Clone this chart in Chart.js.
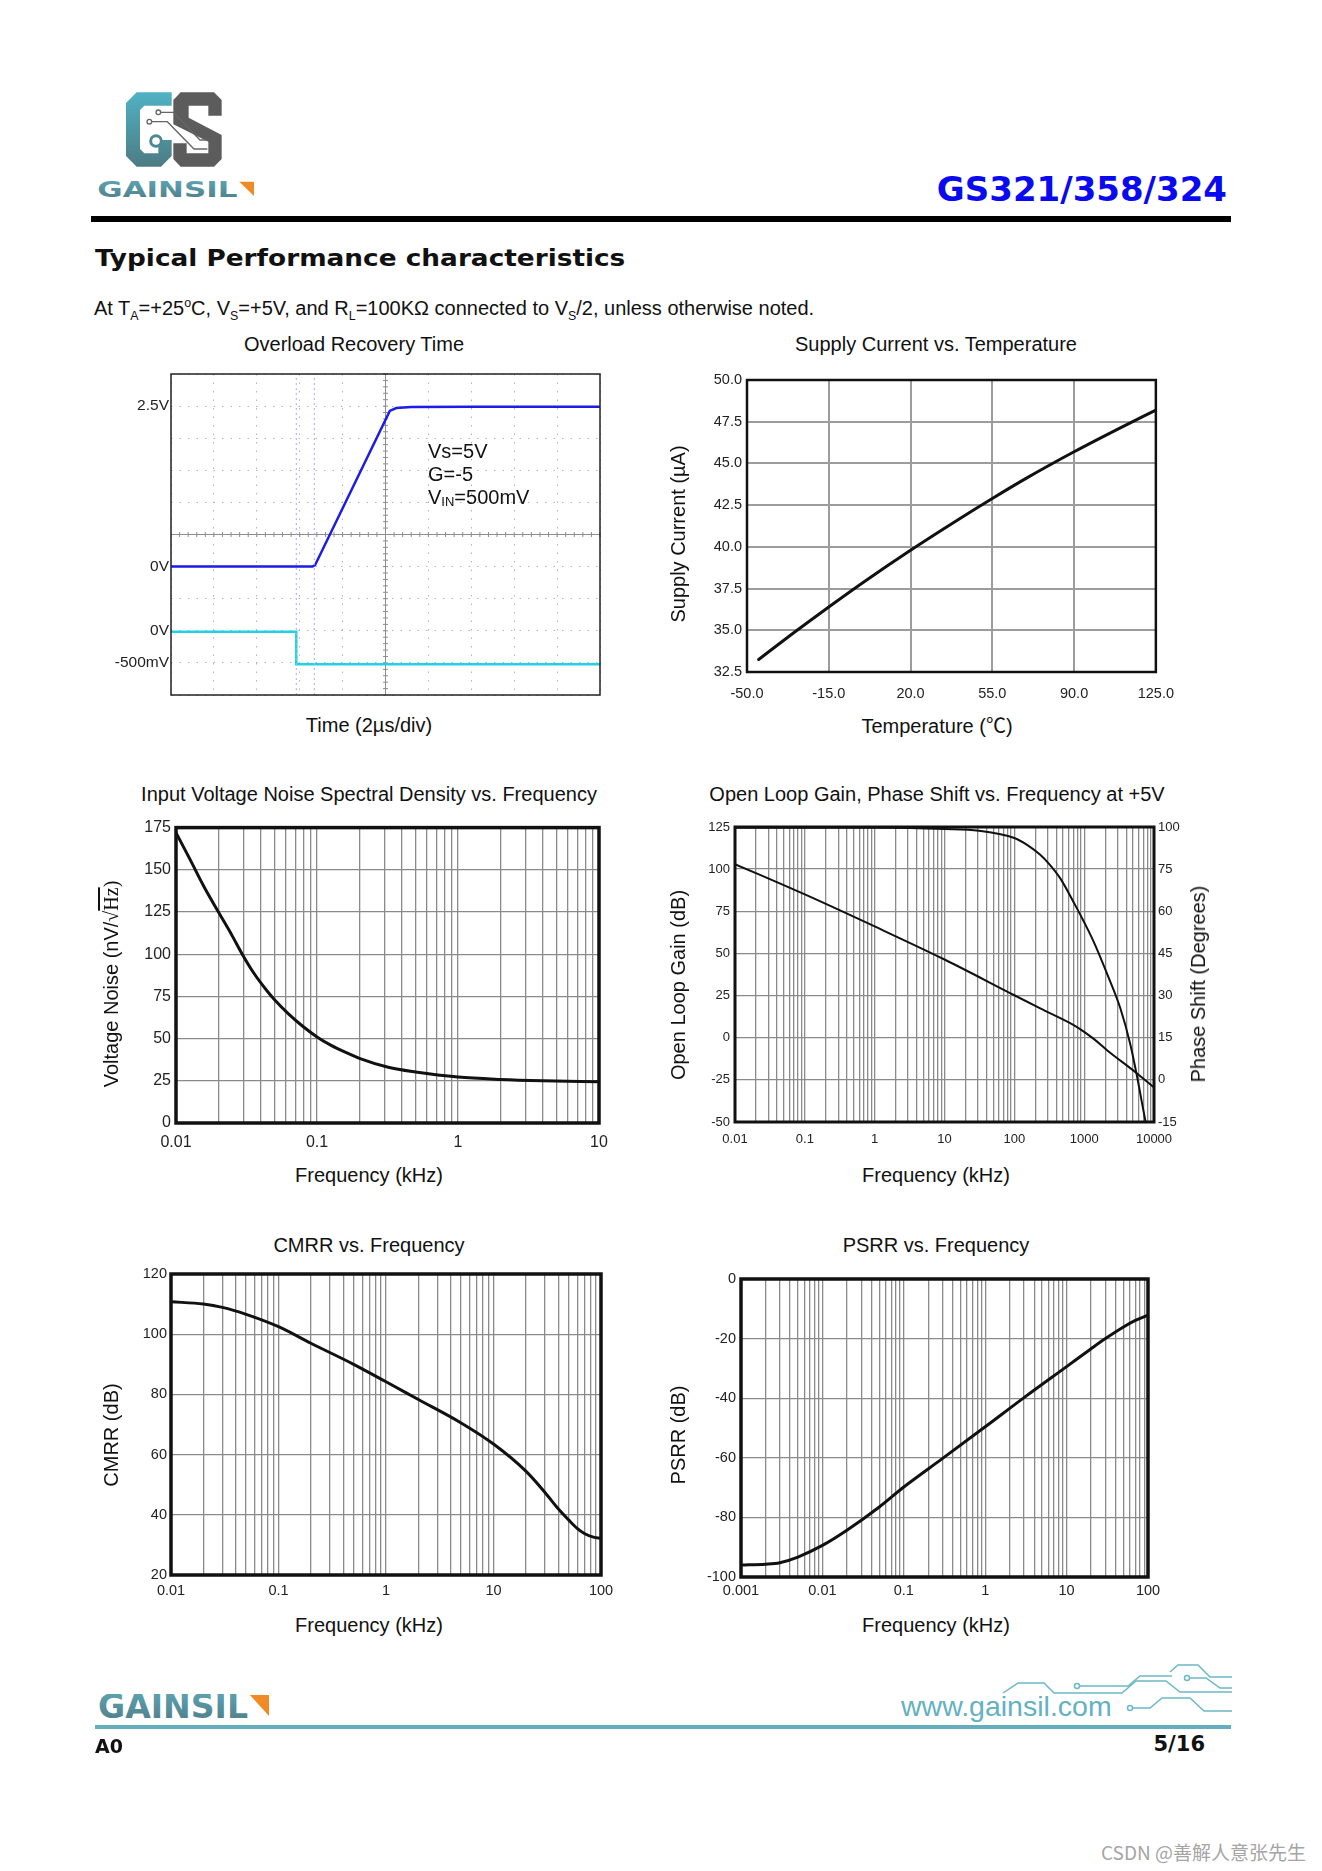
<!DOCTYPE html>
<html lang="en">
<head>
<meta charset="UTF-8">
<title>GS321/358/324 – Typical Performance characteristics</title>
<script src="https://cdn.jsdelivr.net/npm/chart.js"></script>
<style>
  html, body { margin: 0; padding: 0; background: #fff; }
  #page { position: relative; width: 1322px; height: 1871px; overflow: hidden;
          font-family: 'Liberation Sans', Arial, sans-serif; color: #111; }
  canvas { position: absolute; }
  .t { position: absolute; white-space: nowrap; line-height: 1; font-size: 20px;
       transform: translate(-50%, -50%); z-index: 2; }
  .v { transform: translate(-50%, -50%) rotate(-90deg); }
  .l { transform: translateY(-50%); }
  .r { transform: translate(-100%, -50%); }
  sub, sup { font-size: 0.62em; line-height: 0; }
</style>
</head>
<body>
<div id="page">

  <!-- header logo -->
  <svg style="position:absolute;left:90px;top:85px" width="180" height="125" viewBox="0 0 540 375">
    <defs>
      <linearGradient id="teal" x1="0" y1="0" x2="0" y2="1">
        <stop offset="0" stop-color="#4fb2c4"/>
        <stop offset="1" stop-color="#4d7b84"/>
      </linearGradient>
      <linearGradient id="teal2" x1="0" y1="0" x2="0" y2="1">
        <stop offset="0" stop-color="#5fa9b8"/>
        <stop offset="1" stop-color="#4d7a83"/>
      </linearGradient>
    </defs>
    <path d="M140,22 H245 V62 H163 L150,75 V192 L163,205 H205 V165 H245 V213 L213,245 H140 L108,213 V54 Z" fill="url(#teal)"/>
    <circle cx="198" cy="168" r="16" fill="#fff" stroke="#4f8894" stroke-width="9"/>
    <path d="M272,22 H372 L395,45 V92 H355 V62 H296 V98 L395,150 V222 L372,245 H272 L250,222 V175 H290 V205 H355 V170 L250,118 V45 Z" fill="#5c5c5c"/>
    <g fill="none" stroke="#666" stroke-width="4">
      <circle cx="205" cy="82" r="7"/>
      <circle cx="178" cy="110" r="7"/>
      <polyline points="212,82 250,82 330,165 352,165"/>
      <polyline points="185,110 232,110 312,192 352,192"/>
    </g>
    <text x="22" y="335" font-family="DejaVu Sans" font-weight="bold" font-size="62" textLength="420" lengthAdjust="spacingAndGlyphs" fill="url(#teal2)">GAINSIL</text>
    <polygon points="448,290 492,290 492,333" fill="#f08a24"/>
  </svg>

  <div class="t r" style="left:1227px;top:189px;font-family:'DejaVu Sans';font-weight:bold;font-size:34px;color:#0a0af0">GS321/358/324</div>
  <div style="position:absolute;left:91px;top:216px;width:1140px;height:6px;background:#000"></div>
  <div class="t" style="left:95px;top:258px;font-family:'DejaVu Sans';font-weight:bold;font-size:23px;transform:translateY(-50%) scaleX(1.145);transform-origin:0 50%">Typical Performance characteristics</div>
  <div class="t l" style="left:94px;top:308px">At T<sub>A</sub>=+25<sup>o</sup>C, V<sub>S</sub>=+5V, and R<sub>L</sub>=100KΩ connected to V<sub>S</sub>/2, unless otherwise noted.</div>

  <!-- chart titles -->
  <div class="t" style="left:354px;top:344px">Overload Recovery Time</div>
  <div class="t" style="left:936px;top:344px">Supply Current vs. Temperature</div>
  <div class="t" style="left:369px;top:794px">Input Voltage Noise Spectral Density vs. Frequency</div>
  <div class="t" style="left:937px;top:794px">Open Loop Gain, Phase Shift vs. Frequency at +5V</div>
  <div class="t" style="left:369px;top:1245px">CMRR vs. Frequency</div>
  <div class="t" style="left:936px;top:1245px">PSRR vs. Frequency</div>

  <!-- axis titles -->
  <div class="t" style="left:369px;top:725px">Time (2µs/div)</div>
  <div class="t" style="left:937px;top:725px">Temperature (<span style="font-family:'Noto Sans CJK SC'">℃</span>)</div>
  <div class="t v" style="left:678px;top:534px">Supply Current (µA)</div>
  <div class="t" style="left:369px;top:1175px">Frequency (kHz)</div>
  <div class="t v" style="left:111px;top:984px">Voltage Noise (nV/<span style="font-family:'Liberation Serif'">√<span style="text-decoration:overline">Hz</span>)</span></div>
  <div class="t" style="left:936px;top:1175px">Frequency (kHz)</div>
  <div class="t v" style="left:678px;top:985px">Open Loop Gain (dB)</div>
  <div class="t v" style="left:1198px;top:984px">Phase Shift (Degrees)</div>
  <div class="t" style="left:369px;top:1625px">Frequency (kHz)</div>
  <div class="t v" style="left:111px;top:1435px">CMRR (dB)</div>
  <div class="t" style="left:936px;top:1625px">Frequency (kHz)</div>
  <div class="t v" style="left:678px;top:1435px">PSRR (dB)</div>

  <!-- scope annotation -->
  <div class="t l" style="left:428px;top:451px">Vs=5V</div>
  <div class="t l" style="left:428px;top:474px">G=-5</div>
  <div class="t l" style="left:428px;top:497px">V<span style="font-size:13px;position:relative;top:2px">IN</span>=500mV</div>

  <canvas id="scope"></canvas>
  <canvas id="supply"></canvas>
  <canvas id="noise"></canvas>
  <canvas id="gain"></canvas>
  <canvas id="cmrr"></canvas>
  <canvas id="psrr"></canvas>

  <!-- footer -->
  <svg style="position:absolute;left:98px;top:1694px" width="172" height="25" viewBox="0 0 172 25">
    <text x="0" y="24" font-family="DejaVu Sans" font-weight="bold" font-size="33" textLength="150" lengthAdjust="spacingAndGlyphs" fill="url(#teal2)">GAINSIL</text>
    <polygon points="152,1 171,1 171,22" fill="#f08a24"/>
  </svg>
  <div class="t l" style="left:901px;top:1706px;font-size:28.5px;color:#63b1c1">www.gainsil.com</div>
  <svg style="position:absolute;left:990px;top:1660px" width="250" height="70" viewBox="990 1660 250 70">
    <g fill="none" stroke="#6cb8c7" stroke-width="1.5">
      <polyline points="1003,1693 1018,1683 1044,1683 1054,1693 1122,1693 1136,1681 1166,1681 1180,1692 1232,1692"/>
      <polyline points="1080,1686 1128,1686 1140,1676 1172,1676"/>
      <polyline points="1190,1678 1206,1678 1220,1688 1232,1688"/>
      <polyline points="1170,1672 1178,1665 1198,1665 1210,1677 1232,1677"/>
      <polyline points="1133,1708 1150,1708 1162,1698 1190,1698 1204,1711 1232,1711"/>
      <circle cx="1077" cy="1686" r="2.5"/>
      <circle cx="1187" cy="1678" r="2.5"/>
      <circle cx="1130" cy="1708" r="2.5"/>
    </g>
  </svg>
  <div style="position:absolute;left:95px;top:1725px;width:1136px;height:4px;background:#64aebd"></div>
  <div class="t l" style="left:95px;top:1746px;font-family:'DejaVu Sans';font-weight:bold;font-size:19px">A0</div>
  <div class="t r" style="left:1205px;top:1744px;font-family:'DejaVu Sans';font-weight:bold;font-size:21px">5/16</div>
  <div class="t r" style="left:1306px;top:1851px;font-family:'Noto Sans CJK SC';font-size:19px;color:#a5a5a5">CSDN @善解人意张先生</div>
</div>

<script>
// ---- data ----

// Overload recovery (oscilloscope, in divisions)
const scopeDivTicks = [0, 1, 2, 3, 4, 5, 6, 7, 8, 9, 10];
const scopeLabelDivs = [9, 4, 2, 1];
const scopeLabelText = ['2.5V', '0V', '0V', '-500mV'];
const outTime = [0, 3.30, 3.36, 5.10, 5.25, 5.60, 7.00, 10];
const outDiv = [4.0, 4.0, 4.05, 8.85, 8.94, 8.97, 8.98, 8.98];
const inTime = [0, 2.92, 2.92, 10];
const inDiv = [1.97, 1.97, 0.96, 0.96];
const cursorTimes = [2.92, 3.34];

// Supply current vs temperature
const supplyTempTicks = [-50, -15, 20, 55, 90, 125];
const supplyCurrentTicks = [32.5, 35, 37.5, 40, 42.5, 45, 47.5, 50];
const tempC = [-45, -30, -15, 0, 20, 40, 55, 70, 90, 110, 125];
const supplyUA = [33.25, 34.85, 36.4, 37.9, 39.8, 41.6, 42.9, 44.15, 45.7, 47.15, 48.2];

// Input voltage noise
const noiseDecades = [0.01, 0.1, 1, 10];
const noiseTicks = [0, 25, 50, 75, 100, 125, 150, 175];
const noiseFreq = [0.01, 0.0126, 0.0158, 0.02, 0.025, 0.0295, 0.0355, 0.044, 0.05, 0.063, 0.08,
                   0.1, 0.126, 0.16, 0.2, 0.32, 0.5, 1, 2, 4, 10];
const noiseNv = [172, 156, 140, 125, 111, 100, 89, 78.5, 73, 64.5, 57,
                 51, 46, 41.8, 38.3, 33, 30.2, 27.2, 25.8, 25, 24.4];

// Open loop gain / phase
const olDecades = [0.01, 0.1, 1, 10, 100, 1000, 10000];
const gainTicks = [-50, -25, 0, 25, 50, 75, 100, 125];
const phaseTickLabels = [-15, 0, 15, 30, 45, 60, 75, 100];
const olFreq = [0.01, 0.1, 1, 10, 100, 235, 708, 1000, 1400, 2125, 5720, 10000];
const olGainDb = [103, 85, 66, 46.4, 25.2, 17.4, 7.5, 3.5, -1.0, -7.4, -21.2, -29.5];
const phaseFreq = [0.01, 1, 10, 31, 100, 158, 235, 316, 455, 747, 1000, 1366, 2125, 3296, 4585, 5720, 7115, 7586];
const phaseDeg = [99.5, 99.5, 98.8, 97.8, 93.5, 89, 83.5, 78, 71.7, 62.1, 56.1, 49.2, 37.8, 25.5, 12.6, 1.2, -11.4, -15];

// CMRR
const cmrrDecades = [0.01, 0.1, 1, 10, 100];
const cmrrTicks = [20, 40, 60, 80, 100, 120];
const cmrrFreq = [0.01, 0.02, 0.03, 0.05, 0.1, 0.2, 0.5, 1, 2, 5, 10, 20, 30, 40, 50, 60, 70, 85, 100];
const cmrrDb = [110.8, 110, 108.9, 106.6, 102.5, 97, 90, 84.2, 78.3, 70.5, 63.5, 54.5, 47.5, 42,
                38.3, 35.5, 33.8, 32.6, 32.2];

// PSRR
const psrrDecades = [0.001, 0.01, 0.1, 1, 10, 100];
const psrrTicks = [-100, -80, -60, -40, -20, 0];
const psrrFreq = [0.001, 0.002, 0.003, 0.005, 0.01, 0.02, 0.05, 0.1, 0.3, 1, 3, 10, 20, 30, 50, 70, 100];
const psrrDb = [-96, -95.7, -95.2, -93.3, -89.4, -84.3, -76.5, -69.8, -60.2, -49.6, -39.8, -29.4,
                -23.4, -20, -16.1, -13.9, -12.1];

// ---- helpers ----
const regular = "'Liberation Sans', Arial, sans-serif";
const narrow = "'Liberation Sans Narrow', 'Arial Narrow', 'Liberation Sans', sans-serif";

Chart.defaults.font.family = regular;
Chart.defaults.color = '#222';
Chart.defaults.animation = false;
Chart.defaults.plugins.legend.display = false;
Chart.defaults.plugins.tooltip.enabled = false;
Chart.defaults.elements.point.radius = 0;

// draws the box round the plot area
Chart.register({
  id: 'frame',
  afterDraw(chart, args, opts) {
    const { ctx, chartArea: a } = chart;
    ctx.save();
    ctx.strokeStyle = opts.color || '#000';
    ctx.lineWidth = opts.width || 2;
    ctx.strokeRect(a.left, a.top, a.right - a.left, a.bottom - a.top);
    ctx.restore();
  }
});

function pts(xs, ys) {
  return xs.map((x, i) => ({ x: x, y: ys[i] }));
}

function mount(id, box, pad) {
  const c = document.getElementById(id);
  c.width = box.w + pad.l + pad.r;
  c.height = box.h + pad.t + pad.b;
  c.style.left = (box.x - pad.l) + 'px';
  c.style.top = (box.y - pad.t) + 'px';
  return c;
}

function logTicks(decades) {
  const out = [];
  for (let i = 0; i < decades.length - 1; i++) {
    for (let k = 1; k < 10; k++) out.push({ value: k * decades[i] });
  }
  out.push({ value: decades[decades.length - 1] });
  return out;
}

function logX(decades, pad, size, labelPad, family) {
  return {
    type: 'logarithmic', min: decades[0], max: decades[decades.length - 1],
    afterBuildTicks: s => { s.ticks = logTicks(decades); },
    afterFit: s => { s.height = pad.b; },
    ticks: { autoSkip: false, maxRotation: 0, padding: labelPad, color: '#222',
             font: { size: size, family: family },
             callback: v => decades.includes(v) ? String(v) : '' },
    grid: { color: '#8a8a8a', lineWidth: 1.3, drawTicks: false },
    border: { display: false }
  };
}

function linY(ticks, pad, size, labelPad, family, fmt) {
  return {
    type: 'linear', min: ticks[0], max: ticks[ticks.length - 1],
    afterBuildTicks: s => { s.ticks = ticks.map(v => ({ value: v })); },
    afterFit: s => { s.width = pad.l; },
    ticks: { padding: labelPad, color: '#222', font: { size: size, family: family },
             callback: fmt || (v => String(v)) },
    grid: { color: '#8a8a8a', lineWidth: 1.3, drawTicks: false },
    border: { display: false }
  };
}

function curve(data, width) {
  return { data: data, borderColor: '#111', borderWidth: width,
           cubicInterpolationMode: 'monotone', borderCapStyle: 'round' };
}

// ---- Overload Recovery Time ----
const scopeBox = { x: 171, y: 374, w: 429, h: 321 };
const scopePad = { l: 80, r: 12, t: 12, b: 12 };

const scopeCross = {
  id: 'scopeCross',
  beforeDatasetsDraw(chart) {
    const { ctx, chartArea: a, scales } = chart;
    const cx = scales.x.getPixelForValue(5), cy = scales.y.getPixelForValue(5);
    ctx.save();
    ctx.strokeStyle = '#8d8d8d';
    ctx.lineWidth = 1;
    ctx.beginPath();
    ctx.moveTo(a.left, cy); ctx.lineTo(a.right, cy);
    ctx.moveTo(cx, a.top); ctx.lineTo(cx, a.bottom);
    for (let d = 0.2; d < 10; d += 0.2) {
      const px = scales.x.getPixelForValue(d), py = scales.y.getPixelForValue(d);
      ctx.moveTo(px, cy - 2.5); ctx.lineTo(px, cy + 2.5);
      ctx.moveTo(cx - 2.5, py); ctx.lineTo(cx + 2.5, py);
    }
    ctx.stroke();
    ctx.restore();
  }
};

const dotGrid = ctx => (ctx.tick.value === 5 ? 'rgba(0,0,0,0)' : '#b4b4b4');

new Chart(mount('scope', scopeBox, scopePad), {
  type: 'line',
  data: {
    datasets: [
      ...cursorTimes.map(t => ({ data: pts([t, t], [0, 10]), borderColor: '#a7a7ff',
                                 borderWidth: 1, borderDash: [2, 3] })),
      { data: pts(inTime, inDiv), borderColor: '#1ed3e4', borderWidth: 2.5 },
      { data: pts(outTime, outDiv), borderColor: '#1c1ce6', borderWidth: 2.5 }
    ]
  },
  options: {
    responsive: false,
    layout: { padding: { top: scopePad.t, right: scopePad.r, left: 0, bottom: 0 } },
    scales: {
      x: {
        type: 'linear', min: 0, max: 10,
        afterBuildTicks: s => { s.ticks = scopeDivTicks.map(v => ({ value: v })); },
        afterFit: s => { s.height = scopePad.b; },
        ticks: { display: false },
        grid: { color: dotGrid, lineWidth: 1, drawTicks: false },
        border: { display: false, dash: [1.5, 7] }
      },
      y: {
        type: 'linear', min: 0, max: 10,
        afterBuildTicks: s => { s.ticks = scopeDivTicks.map(v => ({ value: v })); },
        afterFit: s => { s.width = scopePad.l; },
        ticks: { padding: 2, color: '#222', font: { size: 15.5, family: regular },
                 callback: v => { const i = scopeLabelDivs.indexOf(v); return i >= 0 ? scopeLabelText[i] : ''; } },
        grid: { color: dotGrid, lineWidth: 1, drawTicks: false },
        border: { display: false, dash: [1.5, 7] }
      }
    },
    plugins: { frame: { color: '#222', width: 1.5 } }
  },
  plugins: [scopeCross]
});

// ---- Supply Current vs Temperature ----
const supplyBox = { x: 747, y: 380, w: 410, h: 292 };
const supplyPad = { l: 70, r: 30, t: 14, b: 36 };
const supplyY = linY(supplyCurrentTicks, supplyPad, 14.5, 5, regular, v => v.toFixed(1));
supplyY.grid = { color: '#9c9c9c', lineWidth: 2, drawTicks: false };

new Chart(mount('supply', supplyBox, supplyPad), {
  type: 'line',
  data: { datasets: [curve(pts(tempC, supplyUA), 3)] },
  options: {
    responsive: false,
    layout: { padding: { top: supplyPad.t, right: supplyPad.r, left: 0, bottom: 0 } },
    scales: {
      x: {
        type: 'linear', min: -50, max: 125,
        afterBuildTicks: s => { s.ticks = supplyTempTicks.map(v => ({ value: v })); },
        afterFit: s => { s.height = supplyPad.b; },
        ticks: { padding: 13, color: '#222', font: { size: 14.5, family: regular },
                 callback: v => v.toFixed(1) },
        grid: { color: '#9c9c9c', lineWidth: 2, drawTicks: false },
        border: { display: false }
      },
      y: supplyY
    },
    plugins: { frame: { color: '#111', width: 2.5 } }
  }
});

// ---- Input Voltage Noise ----
const noiseBox = { x: 176, y: 827, w: 423, h: 296 };
const noisePad = { l: 70, r: 30, t: 14, b: 32 };

new Chart(mount('noise', noiseBox, noisePad), {
  type: 'line',
  data: { datasets: [curve(pts(noiseFreq, noiseNv), 3)] },
  options: {
    responsive: false,
    layout: { padding: { top: noisePad.t, right: noisePad.r, left: 0, bottom: 0 } },
    scales: {
      x: logX(noiseDecades, noisePad, 16, 9.5, regular),
      y: linY(noiseTicks, noisePad, 16, 5, regular)
    },
    plugins: { frame: { color: '#111', width: 3.5 } }
  }
});

// ---- Open Loop Gain / Phase ----
const gainBox = { x: 735, y: 827, w: 419, h: 295 };
const gainPad = { l: 55, r: 50, t: 14, b: 30 };

// the phase labels sit on the gain grid lines; place phase values between them
function phaseToGrid(d) {
  for (let i = 0; i < phaseTickLabels.length - 1; i++) {
    const a = phaseTickLabels[i], b = phaseTickLabels[i + 1];
    if (d <= b || i === phaseTickLabels.length - 2) {
      return gainTicks[i] + (d - a) / (b - a) * (gainTicks[i + 1] - gainTicks[i]);
    }
  }
}

const phaseAxis = linY(gainTicks, gainPad, 13, 4, regular,
  v => { const i = gainTicks.indexOf(v); return i >= 0 ? String(phaseTickLabels[i]) : ''; });
phaseAxis.position = 'right';
phaseAxis.afterFit = s => { s.width = gainPad.r; };
phaseAxis.grid = { display: false, drawTicks: false };

const phaseSet = curve(pts(phaseFreq, phaseDeg.map(phaseToGrid)), 2);
phaseSet.yAxisID = 'y2';

new Chart(mount('gain', gainBox, gainPad), {
  type: 'line',
  data: { datasets: [curve(pts(olFreq, olGainDb), 2), phaseSet] },
  options: {
    responsive: false,
    layout: { padding: { top: gainPad.t, right: 0, left: 0, bottom: 0 } },
    scales: {
      x: logX(olDecades, gainPad, 13, 10, regular),
      y: linY(gainTicks, gainPad, 13, 5, regular),
      y2: phaseAxis
    },
    plugins: { frame: { color: '#111', width: 3 } }
  }
});

// ---- CMRR ----
const cmrrBox = { x: 171, y: 1274, w: 430, h: 301 };
const cmrrPad = { l: 60, r: 30, t: 14, b: 30 };

new Chart(mount('cmrr', cmrrBox, cmrrPad), {
  type: 'line',
  data: { datasets: [curve(pts(cmrrFreq, cmrrDb), 3)] },
  options: {
    responsive: false,
    layout: { padding: { top: cmrrPad.t, right: cmrrPad.r, left: 0, bottom: 0 } },
    scales: {
      x: logX(cmrrDecades, cmrrPad, 14.5, 7, narrow),
      y: linY(cmrrTicks, cmrrPad, 14.5, 4, narrow)
    },
    plugins: { frame: { color: '#111', width: 3.5 } }
  }
});

// ---- PSRR ----
const psrrBox = { x: 741, y: 1279, w: 407, h: 298 };
const psrrPad = { l: 60, r: 30, t: 14, b: 30 };

new Chart(mount('psrr', psrrBox, psrrPad), {
  type: 'line',
  data: { datasets: [curve(pts(psrrFreq, psrrDb), 3)] },
  options: {
    responsive: false,
    layout: { padding: { top: psrrPad.t, right: psrrPad.r, left: 0, bottom: 0 } },
    scales: {
      x: logX(psrrDecades, psrrPad, 14.5, 5.5, narrow),
      y: linY(psrrTicks, psrrPad, 14.5, 5, narrow)
    },
    plugins: { frame: { color: '#111', width: 3.5 } }
  }
});
</script>
</body>
</html>
